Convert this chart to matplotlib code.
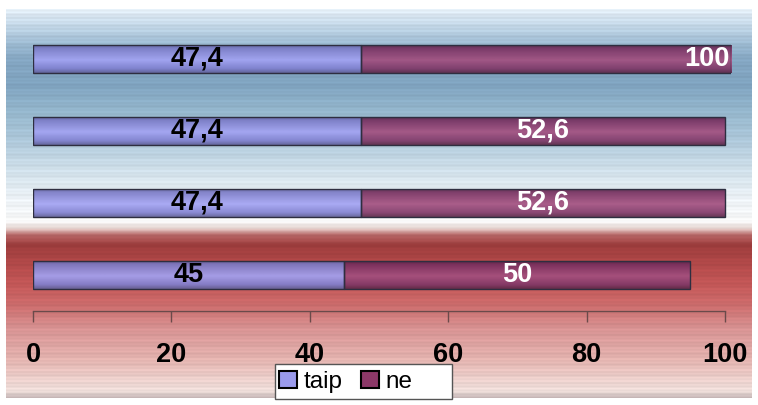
#!/usr/bin/env python3
"""
plot.py - stacked horizontal bars (taip / ne) on a gradient backdrop.
"""

import numpy as np
import matplotlib
matplotlib.use("Agg")
import matplotlib.pyplot as plt
from matplotlib.colors import to_rgb
from matplotlib.patches import Patch, Rectangle

plt.rcParams['font.family'] = ['Liberation Sans', 'DejaVu Sans']

# data, bottom bar first
categories = ["1", "2", "3", "4"]
taip = [45, 47.4, 47.4, 47.4]
ne = [50, 52.6, 52.6, 100]
series_names = ["taip", "ne"]
x_ticks = [0, 20, 40, 60, 80, 100]

W, H = 758, 405

# background colour stops: (pixel row from top, colour)
bg_stops = [
    (9, "#e4eef6"), (25, "#c4d8e8"), (45, "#9ab8d0"), (60, "#84a6c2"),
    (85, "#80a4c0"), (110, "#94b6cc"), (140, "#aec8da"), (170, "#d0e0ea"),
    (200, "#eef3f7"), (222, "#f8f8f8"), (228, "#e8d8d4"), (235, "#b86868"),
    (245, "#9c3c3c"), (262, "#b04848"), (285, "#c45858"), (305, "#cc6c6c"),
    (330, "#d89494"), (360, "#e4b4b0"), (385, "#efd8d4"), (392, "#ecdcd8"),
    (398, "#c8b8b8"),
]

bar_shades = {
    "taip": [(0, "#5c5c98"), (0.15, "#7c7cc8"), (0.55, "#a4a4f4"), (0.85, "#8080d0"), (1, "#606098")],
    "ne": [(0, "#4c2040"), (0.15, "#783060"), (0.55, "#a45080"), (0.85, "#803868"), (1, "#5c2848")],
}


def ramp(stops, positions):
    """Interpolate colour stops at the given positions -> (n, 3) array."""
    pos = [p for p, _ in stops]
    cols = np.array([to_rgb(c) for _, c in stops])
    return np.stack([np.interp(positions, pos, cols[:, k]) for k in range(3)], axis=1)


def draw_background(fig):
    top, bottom, left, right = 9, 398, 6, 752
    bg = fig.add_axes([left / W, (H - bottom) / H, (right - left) / W, (bottom - top) / H])
    rows = np.arange(top, bottom + 1)
    cols = ramp(bg_stops, rows)
    # fine horizontal streaks, like the original texture
    streak = 1 + 0.025 * np.sin(rows * 1.7) + 0.02 * np.sin(rows * 0.63 + 1.0)
    cols = np.clip(cols * streak[:, None], 0, 1)
    img = np.repeat(cols[:, None, :], 2, axis=1)
    bg.imshow(img, aspect='auto', interpolation='bilinear')
    bg.set_axis_off()


def draw_bars(ax, xmax):
    y = np.arange(len(categories))
    h = 0.39
    grad = {k: ramp(v, np.linspace(0, 1, 60))[:, None, :] for k, v in bar_shades.items()}
    left = np.zeros(len(categories))
    for name, vals, txt_col in [("taip", taip, "black"), ("ne", ne, "white")]:
        # bars running past the axis end get cut there, like the original
        shown = np.minimum(left + np.array(vals), xmax) - left
        bars = ax.barh(y, shown, left=left, height=h, facecolor='none',
                       edgecolor='#2e2e40', linewidth=1.0, zorder=3)
        for b, v, s, l, yy in zip(bars, vals, shown, left, y):
            im = ax.imshow(grad[name], extent=(l, l + s, yy - h / 2, yy + h / 2),
                           aspect='auto', interpolation='bilinear', alpha=0.92, zorder=2)
            im.set_clip_path(b)
            label = f"{v:g}".replace('.', ',')
            ax.text(l + v / 2, yy, label, ha='center', va='center', color=txt_col,
                    fontsize=19.5, fontweight='bold', zorder=4, clip_on=False)
        left = left + np.array(vals)


def main():
    fig = plt.figure(figsize=(W / 100, H / 100), dpi=100)
    fig.patch.set_facecolor('white')
    draw_background(fig)

    x0, x100 = 33, 725
    scale = (x100 - x0) / 100
    xmax = (731.2 - x0) / scale
    ax = fig.add_axes([x0 / W, (H - 311) / H, (731.2 - x0) / W, 288 / H])
    ax.set_facecolor('none')

    draw_bars(ax, xmax)

    ax.set_xlim(0, xmax)
    ax.set_ylim(-0.5, 3.5)
    for s in ['top', 'right', 'left']:
        ax.spines[s].set_visible(False)
    ax.spines['bottom'].set_bounds(0, 100)
    ax.spines['bottom'].set_color('#6a4a4a')
    ax.spines['bottom'].set_linewidth(1.0)
    ax.set_yticks([])
    ax.set_xticks(x_ticks)
    ax.set_xticklabels([str(t) for t in x_ticks], fontsize=19.5, fontweight='bold')
    ax.tick_params(axis='x', direction='out', length=8, width=1.0, color='#6a4a4a', pad=14)

    # legend frame drawn by hand (Excel leaves a wide right margin)
    fig.patches.append(Rectangle((275 / W, (H - 399) / H), 177 / W, 35 / H,
                                 transform=fig.transFigure, facecolor='white',
                                 edgecolor='#555555', linewidth=1.0, zorder=5))
    handles = [Patch(facecolor='#9a9aec', edgecolor='black', linewidth=1.5),
               Patch(facecolor='#8c3868', edgecolor='black', linewidth=1.5)]
    leg = fig.legend(handles, series_names, loc='center left',
                     bbox_to_anchor=(279 / W, (H - 382) / H), ncol=2, fontsize=17.5,
                     frameon=False, handlelength=0.72, handleheight=0.72,
                     handletextpad=0.3, columnspacing=0.75, borderpad=0, borderaxespad=0)
    leg.set_zorder(6)

    fig.savefig("out.png", dpi=100)
    plt.close(fig)


if __name__ == "__main__":
    main()
